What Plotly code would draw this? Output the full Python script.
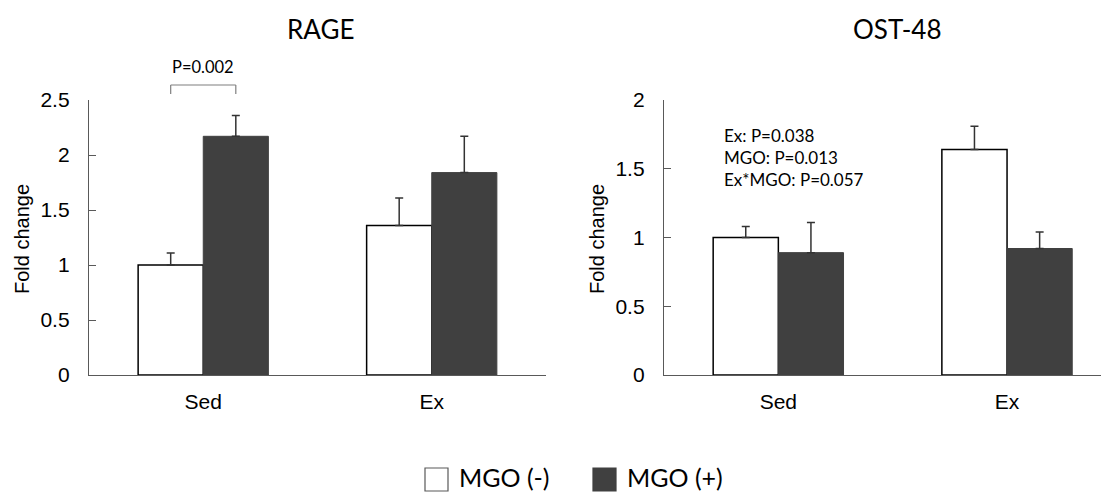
import plotly.graph_objects as go

# ---------------- data ----------------
categories = ["Sed", "Ex"]
groups = ["MGO (-)", "MGO (+)"]

rage_mgo_minus = [1.00, 1.36]
rage_mgo_minus_err = [0.11, 0.25]
rage_mgo_plus = [2.17, 1.84]
rage_mgo_plus_err = [0.19, 0.33]

ost_mgo_minus = [1.00, 1.64]
ost_mgo_minus_err = [0.08, 0.17]
ost_mgo_plus = [0.89, 0.92]
ost_mgo_plus_err = [0.22, 0.12]

rage_ticks = [0, 0.5, 1, 1.5, 2, 2.5]
ost_ticks = [0, 0.5, 1, 1.5, 2]

titles = ["RAGE", "OST-48"]
y_title = "Fold change"
rage_pvalue = "P=0.002"
ost_stats = ["Ex: P=0.038", "MGO: P=0.013", "Ex*MGO: P=0.057"]

# ---------------- style ----------------
W, H = 1109, 493          # window size
OFF = 8                   # page body margin
FW, FH = W - OFF, H - OFF  # figure size
WHITE = "#ffffff"
DARK = "#404040"
AXIS = "#595959"
ERR = "#333333"
BARGAP = 0.43
TICKFONT = dict(family="Liberation Sans, Arial", size=21, color="#000000")
CAL = "Lato, Open Sans, sans-serif"

def px_x(p):
    return (p - OFF) / FW

def px_y(p):
    return (H - p) / FH

xs = list(range(len(categories)))

fig = go.Figure()

def add_bars(xaxis, yaxis, minus, minus_err, plus, plus_err):
    fig.add_trace(go.Bar(
        x=xs, y=minus, name=groups[0], xaxis=xaxis, yaxis=yaxis,
        marker=dict(color=WHITE, line=dict(color="#000000", width=1.5)),
        error_y=dict(type="data", array=minus_err, arrayminus=[0] * len(minus),
                     symmetric=False, color=ERR, thickness=1.5, width=4),
        showlegend=False, offsetgroup="a",
    ))
    fig.add_trace(go.Bar(
        x=xs, y=plus, name=groups[1], xaxis=xaxis, yaxis=yaxis,
        marker=dict(color=DARK, line=dict(color=DARK, width=1)),
        error_y=dict(type="data", array=plus_err, arrayminus=[0] * len(plus),
                     symmetric=False, color=ERR, thickness=1.5, width=4),
        showlegend=False, offsetgroup="b",
    ))

add_bars("x", "y", rage_mgo_minus, rage_mgo_minus_err, rage_mgo_plus, rage_mgo_plus_err)
add_bars("x2", "y2", ost_mgo_minus, ost_mgo_minus_err, ost_mgo_plus, ost_mgo_plus_err)

ydom = [px_y(375), px_y(100)]
common_x = dict(showline=True, linecolor=AXIS, linewidth=1.3, ticks="",
                tickvals=xs, ticktext=categories, tickfont=TICKFONT,
                showgrid=False, zeroline=False, ticklabelstandoff=8,
                automargin=False)
common_y = dict(showline=True, linecolor=AXIS, linewidth=1.3, ticks="inside",
                ticklen=7, tickcolor=AXIS, tickwidth=1.3, tickfont=TICKFONT,
                showgrid=False, zeroline=False, ticklabelstandoff=14,
                automargin=False)

fig.update_layout(
    width=FW, height=FH,
    margin=dict(l=0, r=0, t=0, b=0),
    paper_bgcolor="white", plot_bgcolor="white",
    barmode="group", bargap=BARGAP, bargroupgap=0,
    showlegend=False,
    xaxis=dict(domain=[px_x(89), px_x(546)], range=[-0.5, 1.5], anchor="y", **common_x),
    yaxis=dict(domain=ydom, range=[0, 2.5], tickvals=rage_ticks, anchor="x", **common_y),
    xaxis2=dict(domain=[px_x(664), 1.0], range=[-0.5, -0.5 + 445 / 228.7], anchor="y2", **common_x),
    yaxis2=dict(domain=ydom, range=[0, 2], tickvals=ost_ticks, anchor="x2", **common_y),
)

annotations = []
# titles
annotations.append(dict(text=titles[0], x=px_x(320), y=px_y(29), xref="paper", yref="paper",
                        showarrow=False, font=dict(family=CAL, size=26, color="#000000"),
                        xanchor="center", yanchor="middle"))
annotations.append(dict(text=titles[1], x=px_x(898), y=px_y(29), xref="paper", yref="paper",
                        showarrow=False, font=dict(family=CAL, size=26, color="#000000"),
                        xanchor="center", yanchor="middle"))
# y titles
for xc in (22, 597):
    annotations.append(dict(text=y_title, x=px_x(xc), y=px_y(239), xref="paper", yref="paper",
                            showarrow=False, textangle=-90,
                            font=dict(family="Liberation Sans, Arial", size=20, color="#000000"),
                            xanchor="center", yanchor="middle"))

# bracket for RAGE Sed comparison
half = (1 - BARGAP) / 4
xl, xr = xs[0] - half, xs[0] + half
bracket_top, bracket_bot = px_y(85), px_y(94)
shapes = [
    dict(type="line", xref="x", yref="paper", x0=xl, x1=xr, y0=bracket_top, y1=bracket_top,
         line=dict(color="#7f7f7f", width=1.2)),
    dict(type="line", xref="x", yref="paper", x0=xl, x1=xl, y0=bracket_top, y1=bracket_bot,
         line=dict(color="#7f7f7f", width=1.2)),
    dict(type="line", xref="x", yref="paper", x0=xr, x1=xr, y0=bracket_top, y1=bracket_bot,
         line=dict(color="#7f7f7f", width=1.2)),
]
annotations.append(dict(text=rage_pvalue, x=xs[0], y=px_y(67), xref="x", yref="paper",
                        showarrow=False, font=dict(family=CAL, size=16.5, color="#000000"),
                        xanchor="center", yanchor="middle"))

# OST-48 statistics text
annotations.append(dict(text="<br>".join(ost_stats), x=-0.245, y=1.585, xref="x2", yref="y2",
                        showarrow=False, align="left",
                        font=dict(family=CAL, size=17, color="#000000"),
                        xanchor="left", yanchor="middle"))

# manual legend
leg_items = [(425, WHITE, "#595959"), (593, DARK, DARK)]
for (x0, fill, edge), label in zip(leg_items, groups):
    shapes.append(dict(type="rect", xref="paper", yref="paper",
                       x0=px_x(x0), x1=px_x(x0 + 23), y0=px_y(491), y1=px_y(468),
                       fillcolor=fill, line=dict(color=edge, width=1.2)))
    annotations.append(dict(text=label, x=px_x(x0 + 33), y=px_y(477), xref="paper", yref="paper",
                            showarrow=False, font=dict(family=CAL, size=25, color="#000000"),
                            xanchor="left", yanchor="middle", borderpad=0))

fig.update_layout(annotations=annotations, shapes=shapes)

fig.write_html("out.html")
